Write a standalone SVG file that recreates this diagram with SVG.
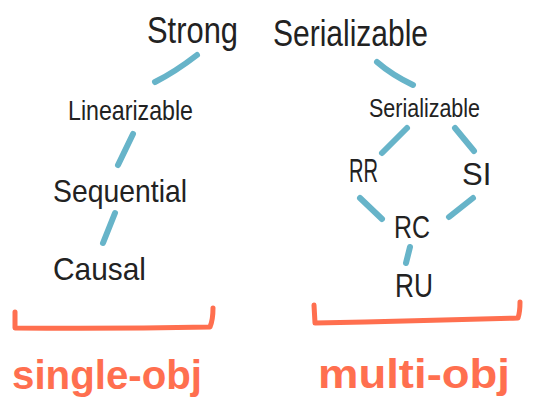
<svg xmlns="http://www.w3.org/2000/svg" width="543" height="401" viewBox="0 0 543 401">
<style>
.t{font-family:"Liberation Sans","DejaVu Sans",sans-serif;fill:#222;}
.o{font-family:"Liberation Sans","DejaVu Sans",sans-serif;fill:#ff6f4f;font-weight:bold;}
.c{fill:none;stroke:#67b4c9;stroke-width:6;stroke-linecap:round;stroke-linejoin:round;}
.b{fill:none;stroke:#ff6f4f;stroke-width:5;stroke-linecap:round;stroke-linejoin:round;}
</style>
<rect width="543" height="401" fill="#fff"/>
<g id="connectors">
<path class="c" d="M197,55 Q175,72 155,82"/>
<path class="c" d="M377,62 Q392,75 413,85"/>
<path class="c" d="M133,134 L118,165"/>
<path class="c" d="M115,213 L103,243"/>
<path class="c" d="M407,128 L382,153"/>
<path class="c" d="M455,128 L474,151"/>
<path class="c" d="M360,198 L382,219"/>
<path class="c" d="M473,198 L449,217"/>
<path class="c" d="M410,247 L406,263"/>
</g>
<g id="strong"><text class="t" x="147" y="43" font-size="36" textLength="91" lengthAdjust="spacingAndGlyphs">Strong</text></g>
<g id="strong-serializable"><text class="t" x="273" y="46" font-size="36" textLength="155" lengthAdjust="spacingAndGlyphs">Serializable</text></g>
<g id="linearizable"><text class="t" x="68" y="120" font-size="28" textLength="125" lengthAdjust="spacingAndGlyphs">Linearizable</text></g>
<g id="serializable"><text class="t" x="369" y="117" font-size="26" textLength="111" lengthAdjust="spacingAndGlyphs">Serializable</text></g>
<g id="sequential"><text class="t" x="53" y="202" font-size="32" textLength="134" lengthAdjust="spacingAndGlyphs">Sequential</text></g>
<g id="causal"><text class="t" x="53" y="280" font-size="32" textLength="93" lengthAdjust="spacingAndGlyphs">Causal</text></g>
<g id="rr"><text class="t" x="349" y="182" font-size="34" textLength="29" lengthAdjust="spacingAndGlyphs">RR</text></g>
<g id="si"><text class="t" x="462" y="185" font-size="31">SI</text></g>
<g id="rc"><text class="t" x="394" y="238" font-size="31" textLength="36" lengthAdjust="spacingAndGlyphs">RC</text></g>
<g id="ru"><text class="t" x="395" y="297" font-size="34" textLength="38" lengthAdjust="spacingAndGlyphs">RU</text></g>
<g id="single-obj-bracket"><path class="b" d="M15,312 L15,328 Q110,329 210,327 Q213,320 213,308"/></g>
<g id="multi-obj-bracket"><path class="b" d="M314,305 L315,323 Q420,321 518,318 Q520,312 520,302"/></g>
<g id="single-obj"><text class="o" x="12" y="389" font-size="40" textLength="190" lengthAdjust="spacingAndGlyphs">single-obj</text></g>
<g id="multi-obj"><text class="o" x="318" y="388" font-size="40" textLength="192" lengthAdjust="spacingAndGlyphs">multi-obj</text></g>
</svg>
